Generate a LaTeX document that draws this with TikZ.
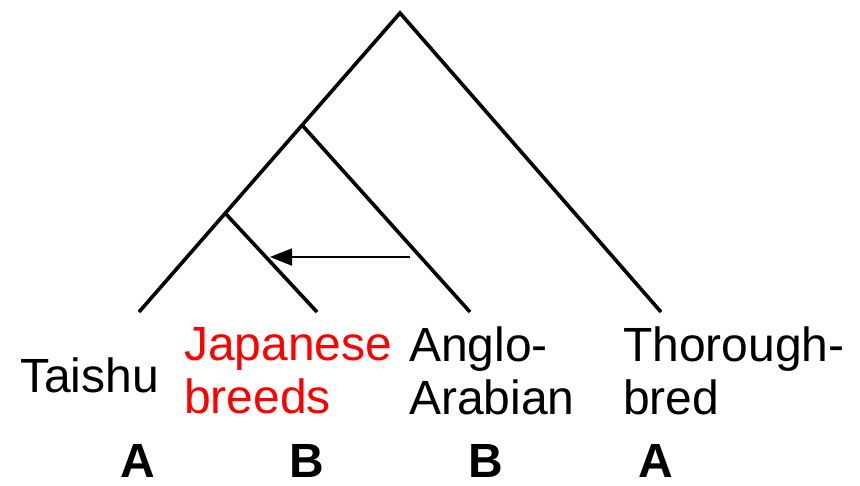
\documentclass[tikz,border=0pt]{standalone}
\usepackage{fontspec}
\setmainfont{Liberation Sans}
\usetikzlibrary{arrows.meta}
\begin{document}
\begin{tikzpicture}[x=1pt,y=-1pt,
  branch/.style={line width=3.6pt, line join=miter},
  transfer/.style={line width=1.8pt, -{Triangle[length=22pt,width=17pt]}},
  label/.style={inner sep=0pt, font=\fontsize{48}{53}\selectfont, align=left},
  group/.style={inner sep=0pt, font=\fontsize{48}{53}\selectfont\bfseries}]
\useasboundingbox (0,0) rectangle (860,485);
% tree points
\coordinate (root) at (400,13);
\coordinate (n1) at (302,125);
\coordinate (n2) at (225,213);
\coordinate (lt) at (139,312);
\coordinate (lj) at (317,312);
\coordinate (la) at (470,312);
\coordinate (lth) at (661,312);
% branches
\draw[branch] (lt) -- (root) -- (lth);
\draw[branch] (n1) -- (la);
\draw[branch] (n2) -- (lj);
% transfer arrow
\coordinate (atail) at (410,257);
\coordinate (ahead) at (270,257);
\draw[transfer] (atail) -- (ahead);
% labels
\node[label, anchor=base west] (taishu) at (20,392) {Taishu};
\node[label, anchor=north west, text=red] (jap) at (184,327) {Japanese\\breeds};
\node[label, anchor=north west] (anglo) at (409,327) {Anglo-\\Arabian};
\node[label, anchor=north west] (thor) at (623,327) {Thorough-\\bred};
% groups
\node[group, anchor=base] (gA1) at (138,477) {A};
\node[group, anchor=base] (gB1) at (307,477) {B};
\node[group, anchor=base] (gB2) at (486,477) {B};
\node[group, anchor=base] (gA2) at (656,477) {A};
\end{tikzpicture}
\end{document}
